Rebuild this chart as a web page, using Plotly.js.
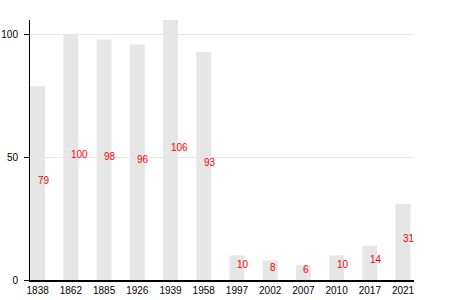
<!DOCTYPE html>
<html>
<head>
<meta charset="utf-8">
<script src="https://cdn.plot.ly/plotly-3.0.1.min.js"></script>
<style>html,body{margin:0;padding:0;background:#fff;}#chart{width:450px;height:300px;}</style>
</head>
<body>
<div id="chart"></div>
<script>
var years = ["1838","1862","1885","1926","1939","1958","1997","2002","2007","2010","2017","2021"];
var values = [79, 100, 98, 96, 106, 93, 10, 8, 6, 10, 14, 31];
var yTicks = [0, 50, 100];

var font = "Liberation Sans, Arial, sans-serif";

var trace = {
  type: "bar",
  x: years,
  y: values,
  width: 0.45,
  marker: {color: "#e6e6e6", line: {width: 0}},
  hoverinfo: "none"
};

var annotations = years.map(function (yr, i) {
  return {
    x: i,
    y: values[i] / 2,
    text: String(values[i]),
    xref: "x",
    yref: "y",
    xanchor: "left",
    yanchor: "middle",
    yshift: 3,
    xshift: -2,
    showarrow: false,
    font: {family: font, size: 10, color: "#ff0000"}
  };
});

var layout = {
  width: 450,
  height: 300,
  margin: {l: 30, r: 36, t: 20, b: 20, pad: 0},
  paper_bgcolor: "#ffffff",
  plot_bgcolor: "#ffffff",
  showlegend: false,
  font: {family: font, size: 10, color: "#000000"},
  xaxis: {
    type: "category",
    range: [-0.23, 11.33],
    showline: true,
    linecolor: "#000000",
    linewidth: 1.5,
    ticks: "",
    showgrid: false,
    zeroline: false,
    tickfont: {family: font, size: 10, color: "#000000"},
    fixedrange: true
  },
  yaxis: {
    range: [0, 106],
    tickvals: yTicks,
    ticktext: yTicks.map(String),
    showline: true,
    linecolor: "#000000",
    linewidth: 1,
    ticks: "outside",
    ticklen: 5,
    tickcolor: "#000000",
    ticklabelstandoff: 4,
    showgrid: true,
    gridcolor: "#e6e6e6",
    zeroline: false,
    tickfont: {family: font, size: 10, color: "#000000"},
    fixedrange: true
  },
  annotations: annotations
};

Plotly.newPlot("chart", [trace], layout, {displayModeBar: false, staticPlot: true});
</script>
</body>
</html>
